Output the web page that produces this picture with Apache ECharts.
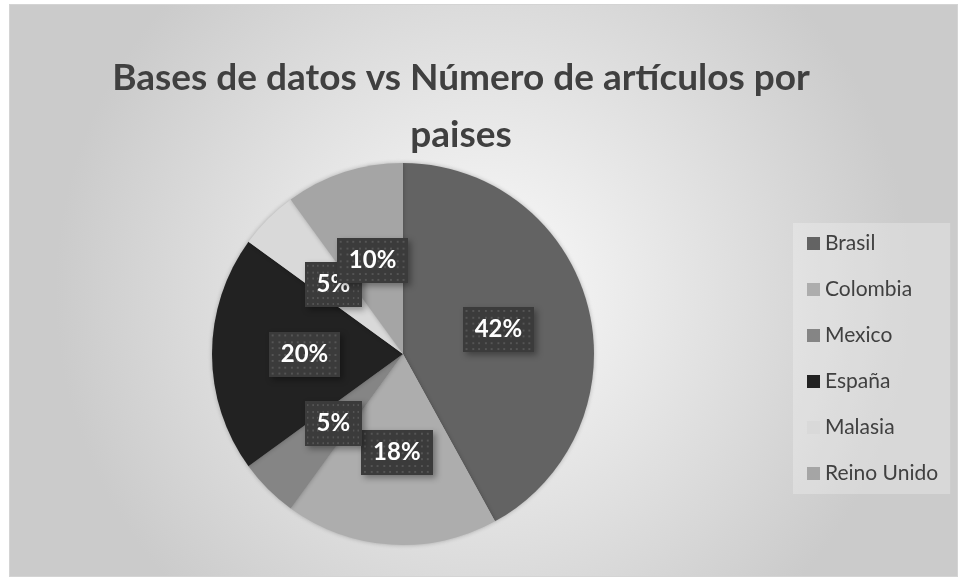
<!DOCTYPE html>
<html>
<head>
<meta charset="utf-8">
<script src="https://cdn.jsdelivr.net/npm/echarts@6/dist/echarts.min.js"></script>
<style>
  html, body { margin: 0; padding: 0; background: #ffffff; }
  #chart {
    position: absolute;
    left: 9px;
    top: 4px;
    width: 949px;
    height: 573px;
    box-sizing: border-box;
    border: 1px solid #d4d4d4;
  }
</style>
</head>
<body>
<div id="chart"></div>
<script>
// datos
var paises = ["Brasil", "Colombia", "Mexico", "España", "Malasia", "Reino Unido"];
var articulos = [42, 18, 5, 20, 5, 10];
var colores = ["#636363", "#adadad", "#858585", "#222222", "#d9d9d9", "#a5a5a5"];

// fondo punteado de las etiquetas
function patron(w, h) {
  var c = document.createElement("canvas");
  c.width = w; c.height = h;
  var ctx = c.getContext("2d");
  ctx.fillStyle = "#3b3b3b";
  ctx.fillRect(0, 0, w, h);
  ctx.fillStyle = "#555555";
  for (var y = 3; y < h; y += 6.5) {
    for (var x = 3; x < w; x += 6.5) {
      ctx.fillRect(Math.round(x), Math.round(y), 2, 2);
    }
  }
  return c;
}
var fondoEtiqueta = patron(74, 46);

var chart = echarts.init(document.getElementById("chart"));

var data = paises.map(function (p, i) {
  return { name: p, value: articulos[i], itemStyle: { color: colores[i] } };
});

chart.setOption({
  backgroundColor: {
    type: "radial",
    x: 0.5, y: 0.5, r: 0.75,
    colorStops: [
      { offset: 0, color: "#fbfbfb" },
      { offset: 1, color: "#cbcbcb" }
    ]
  },
  title: {
    text: "Bases de datos vs Número de artículos por\npaises",
    left: 446,
    top: 40,
    textAlign: "center",
    textStyle: {
      fontFamily: "Lato",
      fontWeight: "bold",
      fontSize: 37,
      lineHeight: 57,
      color: "#404040"
    }
  },
  legend: {
    orient: "vertical",
    left: 783,
    top: 218,
    itemWidth: 13,
    itemHeight: 13,
    itemGap: 25,
    padding: [10, 12, 10, 14],
    backgroundColor: "rgba(255,255,255,0.25)",
    icon: "rect",
    textStyle: { fontFamily: "Lato", fontSize: 21, color: "#404040" },
    data: paises
  },
  series: [{
    type: "pie",
    center: [393, 349],
    radius: 191,
    startAngle: 90,
    clockwise: true,
    silent: true,
    avoidLabelOverlap: false,
    labelLayout: { hideOverlap: false },
    data: data,
    itemStyle: {
      shadowBlur: 4,
      shadowColor: "rgba(0,0,0,0.25)"
    },
    labelLine: { show: false },
    label: {
      position: "inside",
      formatter: "{d}%",
      fontFamily: "Lato",
      fontWeight: "bold",
      fontSize: 24,
      color: "#ffffff",
      backgroundColor: { image: fondoEtiqueta },
      padding: [11, 12, 10, 12],
      shadowBlur: 6,
      shadowOffsetX: 3,
      shadowOffsetY: 3,
      shadowColor: "rgba(0,0,0,0.35)"
    }
  }]
});
</script>
</body>
</html>
